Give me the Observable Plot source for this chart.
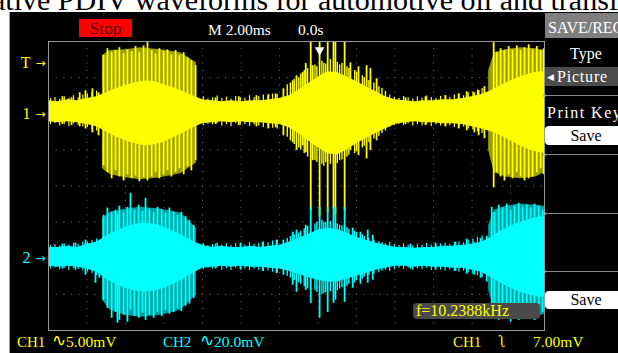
<!DOCTYPE html>
<html><head><meta charset="utf-8">
<script src="https://cdn.jsdelivr.net/npm/d3@7"></script>
<script src="https://cdn.jsdelivr.net/npm/@observablehq/plot@0.6"></script>
<style>
html,body{margin:0;padding:0;background:#fff;}
#root{position:relative;width:618px;height:353px;overflow:hidden;font-family:"Liberation Serif","Times New Roman",serif;}
.t{position:absolute;white-space:nowrap;line-height:1;}
.b{position:absolute;}
</style></head><body><div id="root"></div>
<script>
// ---- screen units: x in horizontal divisions (2.00 ms/div), y in vertical divisions ----
const timePerDiv = "2.00ms";
const ch1Offset = 2;    // CH1 marker, divisions above centre
const ch2Offset = -2;   // CH2 marker
const ch1VoltsPerDiv = 5.00;  // mV
const trigLevelMV = 7.00;     // mV on CH1
const triggerTime = 7.04;     // division where the trigger point sits

const gridX = [1,2,3,4,5,6,7,8,9,10,11,12];
const gridY = [-3,-2,-1,0,1,2,3];

// dense band envelope (divisions relative to each channel marker)
const envX = [0,0.25,0.5,0.75,1,1.25,1.5,1.75,2,2.25,2.5,2.75,3,3.25,3.5,3.75,4,4.25,4.5,4.75,5,5.25,5.5,5.75,6,6.25,6.5,6.75,7,7.25,7.5,7.75,8,8.25,8.5,8.75,9,9.25,9.5,9.75,10,10.25,10.5,10.75,11,11.25,11.5,11.75,12,12.25,12.5,12.75,12.88];
const ch1CoreHi = [0.36,0.33,0.39,0.36,0.42,0.47,0.58,0.69,0.78,0.86,0.91,0.89,0.80,0.72,0.61,0.50,0.39,0.36,0.33,0.36,0.33,0.36,0.36,0.39,0.42,0.50,0.66,0.83,1.02,1.16,1.14,1.02,0.89,0.75,0.61,0.47,0.39,0.36,0.33,0.36,0.36,0.39,0.39,0.42,0.47,0.53,0.64,0.78,0.91,1.02,1.11,1.16,1.16];
const ch1CoreLo = [-0.22,-0.25,-0.22,-0.25,-0.30,-0.36,-0.50,-0.64,-0.75,-0.83,-0.89,-0.86,-0.78,-0.66,-0.53,-0.39,-0.28,-0.25,-0.22,-0.25,-0.22,-0.25,-0.25,-0.28,-0.30,-0.39,-0.55,-0.75,-0.94,-1.11,-1.14,-1.00,-0.83,-0.69,-0.55,-0.42,-0.30,-0.25,-0.22,-0.25,-0.25,-0.28,-0.28,-0.30,-0.36,-0.42,-0.50,-0.61,-0.75,-0.89,-1.00,-1.08,-1.08];
const ch2CoreHi = [0.30,0.30,0.33,0.30,0.39,0.44,0.61,0.75,0.86,0.94,0.97,0.94,0.86,0.75,0.61,0.47,0.36,0.30,0.33,0.30,0.30,0.33,0.30,0.33,0.36,0.44,0.55,0.66,0.78,0.83,0.80,0.69,0.58,0.50,0.42,0.36,0.30,0.30,0.28,0.30,0.30,0.33,0.33,0.36,0.39,0.44,0.58,0.75,0.89,1.00,1.08,1.14,1.14];
const ch2CoreLo = [-0.22,-0.25,-0.22,-0.25,-0.30,-0.39,-0.58,-0.72,-0.83,-0.91,-0.94,-0.91,-0.83,-0.72,-0.58,-0.42,-0.28,-0.25,-0.22,-0.25,-0.22,-0.25,-0.25,-0.28,-0.30,-0.36,-0.44,-0.53,-0.61,-0.66,-0.66,-0.58,-0.50,-0.42,-0.33,-0.28,-0.22,-0.22,-0.25,-0.22,-0.25,-0.25,-0.28,-0.28,-0.33,-0.39,-0.53,-0.69,-0.83,-0.94,-1.02,-1.08,-1.08];

// outer (striped) envelope of the two big bursts
const outerX = [1.40,1.61,2.00,2.39,2.91,3.43,3.84,11.43,11.58,11.87,12.26,12.65,12.88];
const outerBurst = ["b1","b1","b1","b1","b1","b1","b1","b3","b3","b3","b3","b3","b3"];
const ch1OuterHi = [1.61,1.75,1.77,1.83,1.77,1.69,1.41,1.19,1.69,1.77,1.83,1.80,1.75];
const ch1OuterLo = [-1.52,-1.69,-1.77,-1.83,-1.77,-1.66,-1.36,-1.02,-1.63,-1.75,-1.80,-1.75,-1.63];
const ch2OuterHi = [1.11,1.27,1.36,1.41,1.36,1.25,0.83,0.91,1.33,1.44,1.50,1.47,1.44];
const ch2OuterLo = [-1.16,-1.44,-1.58,-1.63,-1.58,-1.44,-1.02,-0.89,-1.44,-1.61,-1.66,-1.63,-1.55];

// individual discharge spikes
const ch1SpikeX = [0.36,0.60,0.81,0.96,1.14,1.30,1.43,1.53,1.64,1.74,1.84,1.95,2.05,2.16,2.26,2.36,2.47,2.57,2.68,2.78,2.88,2.99,3.09,3.19,3.30,3.40,3.51,3.61,3.71,3.82,4.34,4.94,5.40,5.71,5.90,6.10,6.34,6.44,6.60,6.68,6.81,6.86,7.04,7.25,7.40,7.45,7.69,7.84,8.05,8.26,8.36,8.52,9.27,9.79,10.31,10.65,10.86,11.06,11.17,11.32,11.56,11.64,11.74,11.84,11.95,12.05,12.16,12.26,12.36,12.47,12.57,12.68,12.78,12.86];
const ch1SpikeTop = [0.47,0.44,0.58,0.64,0.69,0.58,1.61,1.80,1.69,1.75,1.83,1.66,1.77,1.72,1.86,1.69,1.88,1.97,1.75,1.66,1.80,1.72,1.77,1.63,1.75,1.61,1.69,1.55,1.47,1.33,0.44,0.47,0.50,0.53,0.55,0.69,0.91,1.05,1.14,1.39,2.10,1.33,2.10,2.10,2.10,2.10,2.10,1.41,1.30,1.33,1.25,0.97,0.44,0.47,0.50,0.55,0.61,0.58,0.64,0.75,1.97,1.69,1.80,1.75,1.86,1.77,1.88,1.75,1.83,1.91,1.77,1.86,1.75,1.80];
const ch1SpikeBot = [-0.30,-0.33,-0.36,-0.42,-0.53,-0.61,-1.44,-1.63,-1.80,-1.58,-1.75,-1.86,-1.69,-1.80,-1.72,-1.88,-1.77,-1.86,-1.75,-1.63,-1.80,-1.69,-1.58,-1.75,-1.63,-1.52,-1.69,-1.47,-1.58,-1.30,-0.30,-0.33,-0.36,-0.42,-0.39,-0.61,-0.80,-1.02,-0.89,-1.08,-2.69,-1.30,-2.83,-2.74,-2.63,-2.80,-2.69,-1.02,-1.16,-1.25,-1.02,-0.75,-0.30,-0.33,-0.36,-0.42,-0.47,-0.53,-0.61,-0.69,-2.05,-1.63,-1.75,-1.86,-1.69,-1.80,-1.63,-1.75,-1.86,-1.80,-1.75,-1.63,-1.52,-1.69];

const ch2SpikeX = [0.36,0.70,0.96,1.22,1.32,1.43,1.53,1.64,1.74,1.79,1.84,1.95,2.05,2.13,2.23,2.34,2.44,2.52,2.62,2.73,2.83,2.94,3.04,3.14,3.25,3.35,3.45,3.56,3.66,3.77,4.34,4.99,5.56,5.92,6.10,6.34,6.44,6.68,6.81,7.04,7.25,7.40,7.45,7.69,7.90,8.10,8.29,8.42,9.40,10.05,10.57,10.86,11.06,11.22,11.38,11.51,11.58,11.69,11.79,11.90,12.00,12.10,12.21,12.31,12.42,12.52,12.62,12.73,12.83];
const ch2SpikeTop = [0.39,0.42,0.50,0.28,0.42,1.19,1.39,1.27,1.33,1.22,1.44,1.27,1.41,1.80,1.33,1.47,1.30,1.66,1.36,1.27,1.41,1.33,1.25,1.39,1.27,1.19,1.27,1.16,1.05,0.91,0.39,0.42,0.44,0.50,0.50,0.72,0.78,0.91,1.41,1.41,1.41,1.41,1.41,1.41,0.83,0.72,0.78,0.64,0.39,0.42,0.44,0.53,0.44,0.55,0.61,1.41,1.27,1.47,1.39,1.50,1.33,1.44,1.52,1.41,1.47,1.39,1.50,1.44,1.33];
const ch2SpikeBot = [-0.30,-0.33,-0.47,-0.69,-0.55,-1.16,-1.39,-1.66,-1.50,-1.80,-1.72,-1.58,-1.77,-1.44,-1.61,-1.66,-1.52,-1.72,-1.58,-1.66,-1.50,-1.61,-1.44,-1.55,-1.50,-1.39,-1.47,-1.33,-1.27,-1.11,-0.30,-0.33,-0.36,-0.42,-0.47,-0.75,-0.94,-0.89,-1.25,-1.66,-1.50,-1.25,-1.16,-1.22,-0.83,-0.72,-0.69,-0.61,-0.30,-0.33,-0.36,-0.44,-0.47,-0.55,-0.66,-1.66,-1.52,-1.72,-1.58,-1.66,-1.77,-1.61,-1.72,-1.55,-1.66,-1.61,-1.72,-1.58,-1.50];

// fine noise spikes along the quiet band
const noiseX = [0.05,0.17,0.29,0.41,0.53,0.65,0.77,0.89,1.01,1.13,1.25,4.02,4.14,4.26,4.38,4.50,4.62,4.74,4.86,4.98,5.10,5.22,5.34,5.46,5.58,5.70,5.82,5.94,8.86,8.98,9.10,9.22,9.34,9.46,9.58,9.70,9.82,9.94,10.06,10.18,10.30,10.42,10.54,10.66,10.78,10.90,11.02,11.14,11.26];
const ch1NoiseTop = [0.42,0.45,0.40,0.47,0.43,0.50,0.44,0.52,0.55,0.58,0.62,0.47,0.41,0.44,0.49,0.42,0.46,0.40,0.48,0.44,0.43,0.50,0.45,0.47,0.52,0.49,0.55,0.53,0.52,0.46,0.42,0.48,0.44,0.41,0.47,0.43,0.49,0.45,0.42,0.48,0.50,0.46,0.52,0.55,0.50,0.58,0.60,0.66,0.70];
const ch1NoiseBot = [-0.30,-0.27,-0.33,-0.29,-0.35,-0.28,-0.32,-0.36,-0.38,-0.44,-0.48,-0.33,-0.29,-0.31,-0.27,-0.34,-0.30,-0.36,-0.28,-0.32,-0.30,-0.35,-0.31,-0.34,-0.38,-0.36,-0.40,-0.42,-0.38,-0.33,-0.29,-0.32,-0.28,-0.34,-0.30,-0.33,-0.29,-0.35,-0.31,-0.34,-0.36,-0.33,-0.38,-0.40,-0.37,-0.42,-0.45,-0.50,-0.55];
const ch2NoiseTop = [0.36,0.38,0.34,0.40,0.37,0.42,0.39,0.44,0.46,0.50,0.53,0.40,0.35,0.38,0.42,0.36,0.40,0.35,0.41,0.38,0.37,0.43,0.39,0.41,0.45,0.43,0.48,0.50,0.44,0.38,0.35,0.40,0.36,0.34,0.39,0.36,0.41,0.37,0.35,0.40,0.42,0.39,0.44,0.46,0.43,0.50,0.53,0.58,0.62];
const ch2NoiseBot = [-0.30,-0.27,-0.32,-0.28,-0.34,-0.29,-0.31,-0.35,-0.38,-0.43,-0.48,-0.32,-0.28,-0.30,-0.27,-0.33,-0.29,-0.34,-0.28,-0.31,-0.30,-0.34,-0.30,-0.33,-0.37,-0.35,-0.39,-0.42,-0.37,-0.32,-0.28,-0.31,-0.28,-0.33,-0.29,-0.32,-0.28,-0.34,-0.30,-0.33,-0.35,-0.32,-0.37,-0.39,-0.36,-0.41,-0.44,-0.49,-0.54];

// spikes fringing the middle burst
const midX = [6.20,6.28,6.38,6.50,6.55,6.64,6.73,6.92,6.97,7.10,7.15,7.20,7.32,7.50,7.56,7.62,7.75,7.80,7.95,8.00,8.15,8.20,8.32,8.45,8.58,8.66,8.75];
const ch1MidTop = [0.80,0.85,0.95,1.00,1.10,1.20,1.25,1.35,1.30,1.45,1.40,1.38,1.50,1.42,1.35,1.40,1.30,1.25,1.20,1.15,1.05,1.00,0.92,0.85,0.75,0.70,0.62];
const ch1MidBot = [-0.65,-0.75,-0.85,-0.95,-1.00,-1.10,-1.20,-1.30,-1.35,-1.40,-1.45,-1.35,-1.40,-1.38,-1.30,-1.28,-1.20,-1.15,-1.10,-1.05,-0.95,-0.90,-0.80,-0.70,-0.62,-0.55,-0.48];
const ch2MidTop = [0.55,0.60,0.65,0.70,0.75,0.82,0.88,0.95,1.00,1.05,1.00,0.98,1.02,0.95,0.92,0.90,0.85,0.80,0.75,0.72,0.65,0.60,0.55,0.50,0.46,0.43,0.40];
const ch2MidBot = [-0.50,-0.55,-0.62,-0.68,-0.72,-0.78,-0.85,-0.90,-0.95,-1.00,-0.98,-0.95,-0.92,-0.90,-0.85,-0.82,-0.78,-0.72,-0.68,-0.62,-0.58,-0.52,-0.48,-0.44,-0.40,-0.36,-0.33];

const markerLabels = ["T","1","2"];
const markerLevels = [ch1Offset + trigLevelMV/ch1VoltsPerDiv, ch1Offset, ch2Offset];
const markerColors = ["#ffff00","#ffff00","#00ffff"];

const YEL = "#ffff00", CYA = "#00ffff";

// ---- tables built from the arrays ----
const env = envX.map((x,i)=>({x, h1:ch1CoreHi[i], l1:ch1CoreLo[i], h2:ch2CoreHi[i], l2:ch2CoreLo[i]}));
const outer = outerX.map((x,i)=>({x, burst:outerBurst[i], h1:ch1OuterHi[i], l1:ch1OuterLo[i], h2:ch2OuterHi[i], l2:ch2OuterLo[i]}));
const sp1 = ch1SpikeX.map((x,i)=>({x, top:ch1SpikeTop[i], bot:ch1SpikeBot[i]}));
const sp2 = ch2SpikeX.map((x,i)=>({x, top:ch2SpikeTop[i], bot:ch2SpikeBot[i]}));
const nz1 = noiseX.map((x,i)=>({x, top:ch1NoiseTop[i], bot:ch1NoiseBot[i]}));
const nz2 = noiseX.map((x,i)=>({x, top:ch2NoiseTop[i], bot:ch2NoiseBot[i]}));
const md1 = midX.map((x,i)=>({x, top:ch1MidTop[i], bot:ch1MidBot[i]}));
const md2 = midX.map((x,i)=>({x, top:ch2MidTop[i], bot:ch2MidBot[i]}));
const markers = markerLabels.map((label,i)=>({label, y:markerLevels[i], color:markerColors[i]}));

const root = document.getElementById("root");
function addText(txt, x, base, size, color, extra={}) {
  const d = document.createElement("div");
  d.className = "t"; d.textContent = txt;
  d.style.left = x + "px"; d.style.top = (base - size*0.8165) + "px";
  d.style.fontSize = size + "px"; d.style.color = color;
  Object.assign(d.style, extra); root.appendChild(d); return d;
}
function addBox(x,y,w,h,bg,extra={}) {
  const d = document.createElement("div");
  d.className = "b";
  Object.assign(d.style, {left:x+"px", top:y+"px", width:w+"px", height:h+"px", background:bg}, extra);
  root.appendChild(d); return d;
}

// cut-off caption above the screenshot
addText("ative PDIV waveforms for automotive oil and transformer oil", -8, 9, 30, "#000");
// black scope panel
addBox(9,12,609,341,"#000",{borderLeft:"1px solid #9a9a9a"});

const spikes = (data, off, color, w) => Plot.ruleX(data, {x: "x", y1: d => off + d.bot, y2: d => off + d.top, stroke: color, strokeWidth: w, clip: true});

const chart = Plot.plot({
  width: 618, height: 353,
  marginLeft: 48, marginRight: 74, marginTop: 41, marginBottom: 23,
  x: {domain: [0, 12.88], axis: null},
  y: {domain: [-4, 4], axis: null},
  style: {background: "transparent", fontFamily: "Liberation Serif"},
  marks: [
    Plot.ruleX(gridX, {stroke: "#6e6e6e", strokeDasharray: "1,6.22"}),
    Plot.ruleY(gridY, {stroke: "#6e6e6e", strokeDasharray: "1,6.7"}),
    // CH1
    Plot.areaY(outer, {x: "x", z: "burst", y1: d => ch1Offset + d.l1, y2: d => ch1Offset + d.h1, fill: YEL, fillOpacity: 0.62}),
    Plot.areaY(env, {x: "x", y1: d => ch1Offset + d.l1, y2: d => ch1Offset + d.h1, fill: YEL}),
    spikes(nz1, ch1Offset, YEL, 1.2),
    spikes(md1, ch1Offset, YEL, 1.4),
    spikes(sp1, ch1Offset, YEL, 1.8),
    // CH2
    Plot.areaY(outer, {x: "x", z: "burst", y1: d => ch2Offset + d.l2, y2: d => ch2Offset + d.h2, fill: CYA, fillOpacity: 0.62}),
    Plot.areaY(env, {x: "x", y1: d => ch2Offset + d.l2, y2: d => ch2Offset + d.h2, fill: CYA}),
    spikes(nz2, ch2Offset, CYA, 1.2),
    spikes(md2, ch2Offset, CYA, 1.4),
    spikes(sp2, ch2Offset, CYA, 1.8),
    Plot.frame({stroke: "#9a9a9a"}),
    // trigger position marker
    Plot.dot([triggerTime], {x: d => d, y: 3.76, symbol: "triangle", rotate: 180, r: 3.6, fill: "#fff", stroke: "none"}),
    // channel / trigger markers on the left edge
    Plot.text(markers, {x: 0, y: "y", text: "label", fill: "color", dx: -18, textAnchor: "end", fontSize: 16, fontFamily: "Liberation Serif"}),
    Plot.text(markers, {x: 0, y: "y", text: () => "\u2192", fill: "color", dx: -3, textAnchor: "end", fontSize: 12, fontFamily: "DejaVu Sans"})
  ]
});
chart.style.position = "absolute"; chart.style.left = "0px"; chart.style.top = "0px";
root.appendChild(chart);

// top status bar
addBox(79,19,53,18,"#ff0000");
addText("Stop", 105.5, 34, 17.5, "#5a0000", {transform:"translateX(-50%)"});
addText("M  " + timePerDiv, 208, 34.5, 15.5, "#fff");
addText("0.0s", 298, 34.5, 15.5, "#fff");

// SAVE/REC menu
addBox(545,13,73,25,"#7f7f7f");
addText("SAVE/REC", 548, 33, 16, "#fff");
addText("Type", 586, 59, 16, "#fff", {transform:"translateX(-50%)"});
addBox(545,67,73,19,"#4c4c4c");
addText("\u25C0", 547, 80, 9, "#fff");
addText("Picture", 557, 82, 16, "#fff", {letterSpacing:"0.8px"});
for (const yy of [95,154,213,271]) {
  addBox(545,yy,73,1,"#8a8a8a");
  addBox(543,yy-1,3,3,"#aaa",{borderRadius:"50%"});
}
addText("Print Key", 547, 118, 16, "#fff", {letterSpacing:"1.5px"});
addBox(545,126,73,19,"#fff",{borderRadius:"4px 0 0 4px"});
addText("Save", 586, 141, 16, "#000", {transform:"translateX(-50%)"});
addBox(545,291,73,18,"#fff",{borderRadius:"4px 0 0 4px"});
addText("Save", 586, 305, 16, "#000", {transform:"translateX(-50%)"});

// frequency read-out
addBox(413,303,127,16,"#4a4a4a",{borderRadius:"4px"});
addText("f=10.2388kHz", 416, 316, 16, YEL);

// bottom status line
addText("CH1", 17, 347, 15, YEL);
addText("\u223F", 52, 346, 17, YEL, {fontFamily:"DejaVu Sans"});
addText("5.00mV", 66, 347, 15.5, YEL);
addText("CH2", 163, 347, 15, CYA);
addText("\u223F", 200, 346, 17, CYA, {fontFamily:"DejaVu Sans"});
addText("20.0mV", 214, 347, 15.5, CYA);
addText("CH1", 453, 347, 15, YEL);
addText("\u0285", 499, 347, 16, YEL);
addText(trigLevelMV.toFixed(2) + "mV", 533, 347, 15.5, YEL);
</script></body></html>
